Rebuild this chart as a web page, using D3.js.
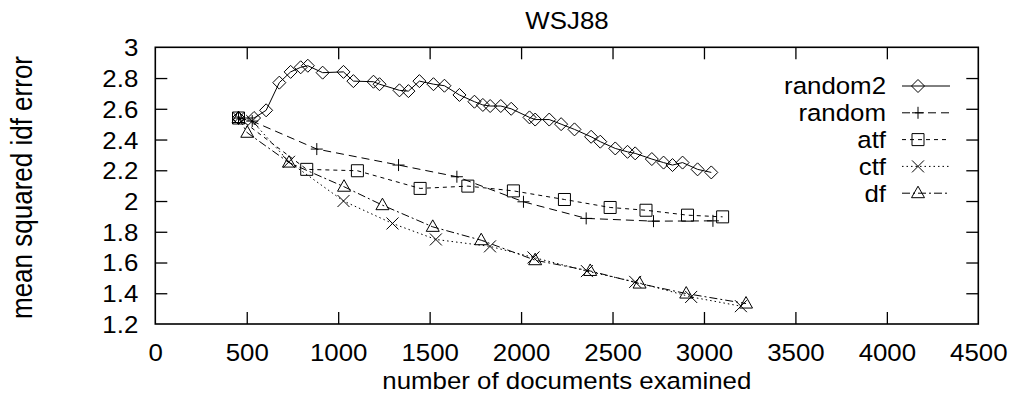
<!DOCTYPE html>
<html>
<head>
<meta charset="utf-8">
<script src="https://cdn.jsdelivr.net/npm/d3@7"></script>
<style>
  body { margin: 0; background: #fff; }
  text { font-family: "Liberation Sans", Arial, Helvetica, sans-serif; fill: #000; }
</style>
</head>
<body>
<div id="chart"></div>
<script>
// values
const xTicks = [0, 500, 1000, 1500, 2000, 2500, 3000, 3500, 4000, 4500]
const yTicks = [1.2, 1.4, 1.6, 1.8, 2, 2.2, 2.4, 2.6, 2.8, 3]

const random2X = [455, 540, 606, 678, 740, 795, 834, 915, 1029, 1083, 1193, 1226, 1335, 1384, 1444, 1521, 1581, 1663, 1745, 1791, 1831, 1889, 1946, 2046, 2077, 2154, 2219, 2292, 2383, 2433, 2515, 2582, 2624, 2715, 2779, 2828, 2883, 2965, 3040]
const random2Y = [2.54, 2.54, 2.59, 2.77, 2.84, 2.87, 2.88, 2.835, 2.84, 2.78, 2.776, 2.76, 2.72, 2.715, 2.78, 2.76, 2.75, 2.69, 2.646, 2.625, 2.618, 2.618, 2.60, 2.544, 2.53, 2.53, 2.50, 2.466, 2.418, 2.386, 2.342, 2.32, 2.31, 2.273, 2.25, 2.234, 2.25, 2.206, 2.186]

const randomX = [455, 530, 883, 1330, 1649, 2013, 2356, 2724, 3049]
const randomY = [2.54, 2.52, 2.338, 2.234, 2.158, 1.995, 1.887, 1.869, 1.871]

const atfX = [455, 828, 1105, 1448, 1709, 1958, 2237, 2487, 2683, 2910, 3102]
const atfY = [2.54, 2.206, 2.197, 2.082, 2.097, 2.066, 2.01, 1.958, 1.94, 1.908, 1.897]

const ctfX = [455, 530, 731, 1029, 1297, 1534, 1830, 2068, 2360, 2624, 2930, 3202]
const ctfY = [2.54, 2.52, 2.255, 2.0, 1.854, 1.75, 1.705, 1.633, 1.544, 1.474, 1.376, 1.316]

const dfX = [455, 503, 731, 1032, 1242, 1517, 1782, 2077, 2378, 2648, 2903, 3230]
const dfY = [2.54, 2.444, 2.25, 2.093, 1.973, 1.832, 1.745, 1.615, 1.545, 1.463, 1.398, 1.333]

const seriesNames = ['random2', 'random', 'atf', 'ctf', 'df']

const width = 1012, height = 394
const margin = {top: 47.3, right: 33.7, bottom: 70, left: 155.3}
const fontSize = 23.5
const stretch = 1.1 // the gnuplot text looks a bit wide

// gnuplot-ish point types
const marks = {
    diamond: 'M0,-6.5L6.5,0L0,6.5L-6.5,0Z',
    plus: 'M-6,0H6M0,-6V6',
    square: 'M-6,-6H6V6H-6Z',
    cross: 'M-6,-6L6,6M-6,6L6,-6',
    triangle: 'M0,-7L6.5,4.5H-6.5Z'
}

const series = [
    {name: 'random2', xs: random2X, ys: random2Y, mark: 'diamond', dash: null},
    {name: 'random', xs: randomX, ys: randomY, mark: 'plus', dash: '8,5'},
    {name: 'atf', xs: atfX, ys: atfY, mark: 'square', dash: '4,4'},
    {name: 'ctf', xs: ctfX, ys: ctfY, mark: 'cross', dash: '1.5,3'},
    {name: 'df', xs: dfX, ys: dfY, mark: 'triangle', dash: '8,3,2,3'}
]

const svg = d3.select('#chart').append('svg')
    .attr('width', width)
    .attr('height', height)

const plotW = width - margin.left - margin.right
const plotH = height - margin.top - margin.bottom

const x = d3.scaleLinear().domain([0, 4500]).range([0, plotW])
const y = d3.scaleLinear().domain([1.2, 3]).range([plotH, 0])

const plot = svg.append('g')
    .attr('transform', `translate(${margin.left}, ${margin.top})`)

function styleAxis (g) {
    g.select('.domain').remove()
    g.selectAll('line').attr('stroke', '#000').attr('stroke-width', 1.3)
    g.selectAll('text')
        .attr('font-size', fontSize)
        .attr('font-family', '"Liberation Sans", Arial, sans-serif')
        .attr('fill', '#000')
}

// bottom / top
plot.append('g')
    .attr('transform', `translate(0, ${plotH})`)
    .call(d3.axisBottom(x).tickValues(xTicks).tickSize(-12).tickPadding(20).tickFormat(d3.format('d')))
    .call(styleAxis)
    .call(g => g.selectAll('text').attr('transform', `scale(${stretch},1)`))
    .call(g => g.selectAll('.tick').filter(d => d === 0 || d === 4500).select('line').remove())

plot.append('g')
    .call(d3.axisTop(x).tickValues(xTicks.slice(1, -1)).tickSize(-12).tickFormat(''))
    .call(styleAxis)

// left / right
plot.append('g')
    .call(d3.axisLeft(y).tickValues(yTicks).tickSize(-12).tickPadding(15.5).tickFormat(d3.format('')))
    .call(styleAxis)
    .call(g => g.selectAll('text').attr('transform', `scale(${stretch},1)`).attr('dy', '0.36em'))
    .call(g => g.selectAll('.tick').filter(d => d === 1.2 || d === 3).select('line').remove())

plot.append('g')
    .attr('transform', `translate(${plotW}, 0)`)
    .call(d3.axisRight(y).tickValues(yTicks.slice(1, -1)).tickSize(-12).tickFormat(''))
    .call(styleAxis)

// border
plot.append('rect')
    .attr('width', plotW)
    .attr('height', plotH)
    .attr('fill', 'none')
    .attr('stroke', '#000')
    .attr('stroke-width', 1.6)

const line = d3.line().x(d => x(d[0])).y(d => y(d[1]))

series.forEach(s => {
    const pts = s.xs.map((d, i) => [d, s.ys[i]])
    plot.append('path')
        .datum(pts)
        .attr('d', line)
        .attr('fill', 'none')
        .attr('stroke', '#000')
        .attr('stroke-width', 1)
        .attr('stroke-dasharray', s.dash)
    plot.selectAll(null)
        .data(pts)
        .enter().append('path')
        .attr('transform', d => `translate(${x(d[0])}, ${y(d[1])})`)
        .attr('d', marks[s.mark])
        .attr('fill', 'none')
        .attr('stroke', '#000')
        .attr('stroke-width', 1)
})

// key, top right inside the plot
const key = svg.append('g')
series.forEach((s, i) => {
    const ky = 86 + i * 26.8
    key.append('text')
        .attr('transform', `translate(886, ${ky + 8.4}) scale(${stretch},1)`)
        .attr('text-anchor', 'end')
        .attr('font-size', fontSize)
        .text(seriesNames[i])
    key.append('line')
        .attr('x1', 902).attr('x2', 950)
        .attr('y1', ky).attr('y2', ky)
        .attr('stroke', '#000')
        .attr('stroke-width', 1)
        .attr('stroke-dasharray', s.dash)
    key.append('path')
        .attr('transform', `translate(918, ${ky})`)
        .attr('d', marks[s.mark])
        .attr('fill', 'none')
        .attr('stroke', '#000')
})

// titles
svg.append('text')
    .attr('transform', `translate(567, 29.3) scale(${stretch},1)`)
    .attr('text-anchor', 'middle')
    .attr('font-size', fontSize)
    .text('WSJ88')

svg.append('text')
    .attr('transform', `translate(566.8, 388.5) scale(${stretch},1)`)
    .attr('text-anchor', 'middle')
    .attr('font-size', fontSize)
    .text('number of documents examined')

svg.append('text')
    .attr('transform', `translate(32, 187.5) rotate(-90) scale(1, 1.1)`)
    .attr('text-anchor', 'middle')
    .attr('font-size', 26)
    .text('mean squared idf error')
</script>
</body>
</html>
